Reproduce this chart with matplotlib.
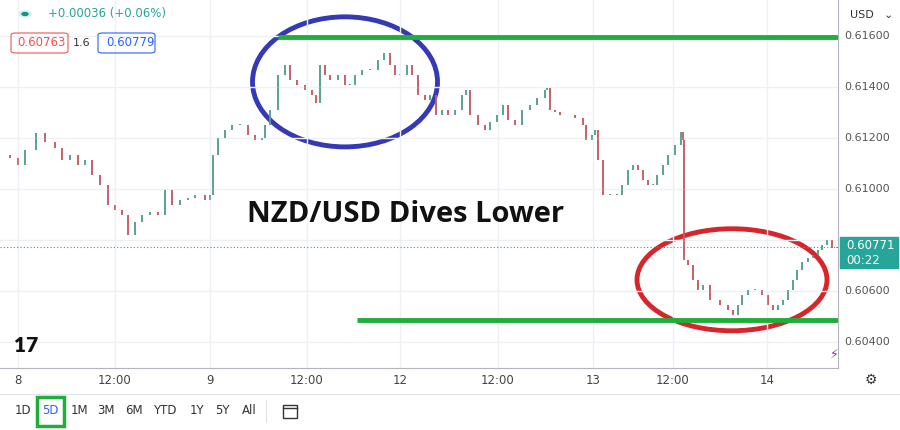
import matplotlib
matplotlib.use("Agg")
import matplotlib.pyplot as plt
from matplotlib.patches import Ellipse, Rectangle, FancyBboxPatch
from matplotlib.lines import Line2D

t = [2,10,18,25,36,45,55,62,70,78,85,92,100,108,115,122,128,135,142,150,158,165,172,180,188,195,205,210,
     213,218,225,232,240,248,255,262,265,270,278,285,290,297,305,312,316,320,325,330,338,345,350,355,362,
     370,378,384,390,395,400,407,412,418,425,430,436,442,448,455,462,466,470,478,485,490,497,503,508,515,
     522,530,537,545,547,550,555,560,568,575,583,586,592,595,598,603,610,617,622,628,633,638,643,648,653,
     657,663,668,675,681,683,684,688,693,698,703,710,720,728,733,738,742,748,755,762,768,773,778,783,788,
     793,797,802,808,813,818,822,827,832,837]
close = [0.61133,0.61122,0.61094,0.61153,0.61220,0.61184,0.61161,0.61114,0.61133,0.61094,0.61114,0.61055,
         0.61016,0.60937,0.60918,0.60898,0.60820,0.60871,0.60898,0.60910,0.60898,0.60996,0.60937,0.60957,
         0.60965,0.60977,0.60957,0.60977,0.61133,0.61200,0.61231,0.61251,0.61251,0.61212,0.61192,0.61200,
         0.61251,0.61310,0.61447,0.61486,0.61427,0.61408,0.61388,0.61369,0.61337,0.61486,0.61447,0.61427,
         0.61447,0.61408,0.61408,0.61447,0.61467,0.61467,0.61506,0.61533,0.61486,0.61447,0.61447,0.61486,
         0.61447,0.61369,0.61349,0.61369,0.61290,0.61310,0.61290,0.61310,0.61369,0.61388,0.61290,0.61251,
         0.61231,0.61263,0.61290,0.61329,0.61271,0.61251,0.61310,0.61329,0.61357,0.61388,0.61396,0.61310,
         0.61302,0.61290,0.61290,0.61278,0.61251,0.61192,0.61212,0.61231,0.61114,0.60977,0.60977,0.60977,
         0.61016,0.61075,0.61094,0.61075,0.61035,0.61016,0.61016,0.61055,0.61094,0.61133,0.61173,0.61224,
         0.61192,0.60722,0.60702,0.60643,0.60604,0.60624,0.60565,0.60545,0.60526,0.60506,0.60545,0.60585,
         0.60604,0.60604,0.60585,0.60545,0.60526,0.60545,0.60565,0.60604,0.60643,0.60683,0.60714,0.60730,
         0.60742,0.60761,0.60781,0.60800,0.60769,0.60771]
xtick_pos = [18,115,210,307,400,498,593,673,767]
xtick_lab = ["8","12:00","9","12:00","12","12:00","13","12:00","14"]
ytick_vals = [0.6040,0.6060,0.6080,0.6100,0.6120,0.6140,0.6160]
resistance = 0.61596
support = 0.60487
last_price = 0.60771

W, H = 900, 430
fig = plt.figure(figsize=(9, 4.3), dpi=100)
ax = fig.add_axes([0, 62/H, 838/W, 1-62/H])
ax.set_xlim(0, 838)
ax.set_ylim(0.60298, 0.61741)
for s in ax.spines.values():
    s.set_visible(False)
ax.spines['right'].set_visible(True); ax.spines['right'].set_color('#b2b5be')
ax.spines['bottom'].set_visible(True); ax.spines['bottom'].set_color('#b2b5be')
ax.set_xticks(xtick_pos); ax.set_xticklabels([])
ax.set_yticks(ytick_vals); ax.set_yticklabels([])
ax.tick_params(length=0)
ax.grid(True, color='#eef0f5', lw=1)

prev = close[0]
for x, c in zip(t, close):
    o = prev
    col = '#5fa393' if c >= o else '#c9646c'
    lo, hi = min(o, c), max(o, c)
    ax.vlines(x, lo, hi, color=col, lw=1.2)
    ax.add_patch(Rectangle((x-1.0, lo), 2.0, max(hi-lo, 0.00002), color=col, lw=0))
    prev = c

ax.axhline(last_price, color='#26a69a', ls=(0, (1, 2)), lw=0.8)
ax.plot([278, 838], [resistance]*2, color='#1fae3a', lw=3.5, solid_capstyle='butt')
ax.plot([357, 838], [support]*2, color='#1fae3a', lw=3.5, solid_capstyle='butt')
ax.add_patch(Ellipse((345, 0.61420), 185, 0.00510, fill=False, ec='#3539b5', lw=3.5))
ax.add_patch(Ellipse((732, 0.60644), 190, 0.00400, fill=False, ec='#d7262b', lw=3.5))
ax.text(406, 0.60899, "NZD/USD Dives Lower", ha='center', va='center', fontsize=21,
        fontweight='bold', family='Open Sans', color='#111')

for v in ytick_vals:
    if v == 0.6080:
        continue
    fig.text(844/W, (ax.transData.transform((0, v))[1]) / (H), f"{v:.5f}", fontsize=8, color='#555',
             va='center', ha='left')
fig.text(850/W, 1-15/H, "USD", fontsize=8, color='#333', va='center')
fig.text(884/W, 1-15/H, "⌄", fontsize=8, color='#333', va='center')
fig.patches.append(Rectangle((840/W, 1-268/H), 58/W, 31/H, transform=fig.transFigure, color='#26a69a'))
fig.text(846/W, 1-246/H, "0.60771", fontsize=8.5, color='white', va='center')
fig.text(846/W, 1-261/H, "00:22", fontsize=8.5, color='white', va='center')

for p, l in zip(xtick_pos, xtick_lab):
    fig.text(p/W, 1-380/H, l, ha='center', va='center', fontsize=8.5, color='#444')
fig.text(871/W, 1-380/H, "⚙", ha='center', va='center', fontsize=10, color='#333')
fig.add_artist(Line2D([0, 1], [36/H, 36/H], color='#e0e3eb', lw=0.8))
tb = ["1D","5D","1M","3M","6M","YTD","1Y","5Y","All"]
tbx = [23,50,79,106,134,165,197,222,249]
for x, l in zip(tbx, tb):
    fig.text(x/W, 1-411/H, l, ha='center', va='center', fontsize=8.5,
             color='#2962ff' if l == "5D" else '#333')
fig.patches.append(Rectangle((37/W, 1-426/H), 27/W, 29/H, transform=fig.transFigure,
                             fill=False, ec='#1fae3a', lw=2.5))
fig.add_artist(Line2D([266/W, 266/W], [1-400/H, 1-422/H], color='#e0e3eb', lw=0.8))
# calendar icon
fig.patches.append(Rectangle((283/W, 1-418/H), 14/W, 13/H, transform=fig.transFigure,
                             fill=False, ec='#333', lw=1))
fig.add_artist(Line2D([283/W, 297/W], [1-408/H, 1-408/H], color='#333', lw=1))

fig.text(26/W, 1-345/H, "17", fontsize=15, fontweight='heavy', family='Lato', color='#111',
         va='center', ha='center')
fig.text(834/W, 1-354/H, "⚡", fontsize=9, color='#9c27b0', va='center', ha='center')

fig.patches.append(plt.Circle((25/W, 1-14/H), 6/W, transform=fig.transFigure, color='#d4efe9'))
fig.patches.append(plt.Circle((25/W, 1-14/H), 3/W, transform=fig.transFigure, color='#089981'))
fig.text(48/W, 1-14/H, "+0.00036 (+0.06%)", fontsize=8.5, color='#26a69a', va='center')
fig.patches.append(FancyBboxPatch((11/W, 1-53/H), 57/W, 20/H, transform=fig.transFigure,
                                  boxstyle="round,pad=0,rounding_size=0.005", fill=False, ec='#ef5350', lw=0.8))
fig.text(17/W, 1-43/H, "0.60763", fontsize=8.5, color='#ef5350', va='center')
fig.text(82/W, 1-43/H, "1.6", fontsize=8, color='#333', va='center', ha='center')
fig.patches.append(FancyBboxPatch((98/W, 1-53/H), 57/W, 20/H, transform=fig.transFigure,
                                  boxstyle="round,pad=0,rounding_size=0.005", fill=False, ec='#2962ff', lw=0.8))
fig.text(106/W, 1-43/H, "0.60779", fontsize=8.5, color='#2962ff', va='center')

fig.savefig("out.png", dpi=100)
